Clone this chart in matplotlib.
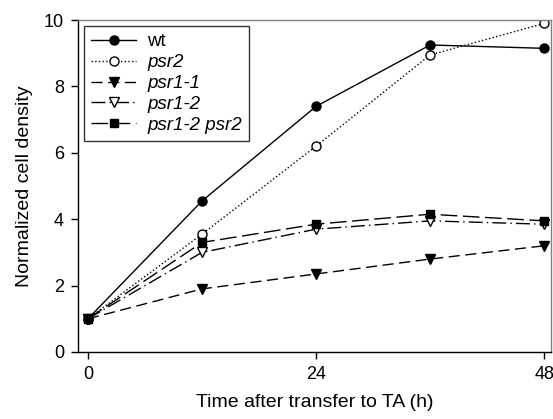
import matplotlib
matplotlib.use("Agg")
import matplotlib.pyplot as plt

plt.rcParams['font.family'] = ['Liberation Sans', 'DejaVu Sans']

hours = [0, 12, 24, 36, 48]
wt = [1.0, 4.55, 7.4, 9.25, 9.15]
psr2 = [1.0, 3.55, 6.2, 8.95, 9.9]
psr1_1 = [1.0, 1.9, 2.35, 2.8, 3.2]
psr1_2 = [1.0, 3.0, 3.7, 3.95, 3.85]
psr1_2_psr2 = [1.0, 3.3, 3.85, 4.15, 3.95]

fig = plt.figure(figsize=(5.53, 4.19), dpi=100)
ax = fig.add_axes([0.141, 0.16, 0.855, 0.792])

ax.plot(hours, wt, color='black', linestyle='-', linewidth=1, marker='o', markersize=6.5, label='wt')
ax.plot(hours, psr2, color='black', linestyle=':', linewidth=1, marker='o', markersize=6.5,
        markerfacecolor='white', label='psr2')
ax.plot(hours, psr1_1, color='black', linestyle=(0, (8, 4)), linewidth=1, marker='v', markersize=6.5,
        label='psr1-1')
ax.plot(hours, psr1_2, color='black', linestyle=(0, (10, 3, 1, 3)), linewidth=1, marker='v',
        markersize=6.5, markerfacecolor='white', label='psr1-2')
ax.plot(hours, psr1_2_psr2, color='black', linestyle=(0, (12, 4)), linewidth=1, marker='s',
        markersize=6, label='psr1-2 psr2')

ax.set_xlim(-1.05, 48.7)
ax.set_ylim(0, 10)
ax.set_xticks([0, 24, 48])
ax.set_yticks([0, 2, 4, 6, 8, 10])
ax.tick_params(labelsize=13, length=5, width=1, direction='out', pad=5)

ax.set_xlabel('Time after transfer to TA (h)', fontsize=14, labelpad=8)
ax.set_ylabel('Normalized cell density', fontsize=14, labelpad=8)

for s in ax.spines.values():
    s.set_linewidth(1)
ax.spines['top'].set_color('gray')
ax.spines['right'].set_color('gray')

leg = ax.legend(loc='upper left', fontsize=13.5, frameon=True, fancybox=False, edgecolor='black',
                handlelength=2.4, handletextpad=0.6, borderaxespad=0.3, labelspacing=0.2,
                borderpad=0.4)
for t in leg.get_texts()[1:]:
    t.set_fontstyle('italic')
leg.get_frame().set_linewidth(1)

fig.savefig('out.png', dpi=100)
